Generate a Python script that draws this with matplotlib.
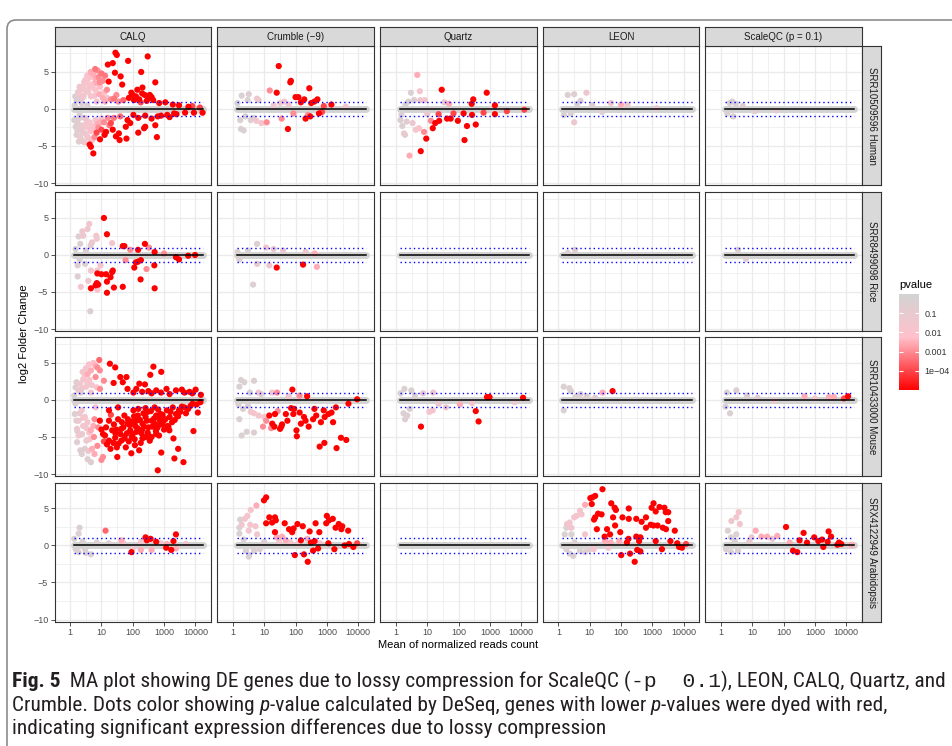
import matplotlib
matplotlib.use("Agg")
import matplotlib.pyplot as plt
import matplotlib.font_manager as fm
from matplotlib.colors import LinearSegmentedColormap, LogNorm
from matplotlib.cm import ScalarMappable
from matplotlib.patches import FancyBboxPatch
from matplotlib.ticker import NullFormatter
from matplotlib.transforms import IdentityTransform

plt.rcParams['font.family'] = ['Liberation Sans', 'DejaVu Sans']

tools = ["CALQ", "Crumble (\u22129)", "Quartz", "LEON", "ScaleQC (p = 0.1)"]
samples = ["SRR10509596 Human", "SRR8499098 Rice", "SRR10433000 Mouse", "SRX4122949 Arabidopsis"]
x_ticks = [1, 10, 100, 1000, 10000]
x_ticklabels = ["1", "10", "100", "1000", "10000"]
y_ticks = [-10, -5, 0, 5]
y_minor = [-7.5, -2.5, 2.5, 7.5]
p_ticks = [0.1, 0.01, 0.001, 1e-4]
p_ticklabels = ["0.1", "0.01", "0.001", "1e\u221204"]
lfc_cut = 1
mean_range = [1.35, 18000]

# (mean of normalized counts, log2 fold change, p value)
human_calq = [
    (28, 7.6, 1e-5), (31, 7.3, 1e-5), (16, 6.0, 1e-5), (23, 6.2, 1e-5), (71, 6.5, 1e-5), (300, 7.1, 1e-5),
    (27, 4.9, 1e-5), (41, 4.4, 1e-5), (186, 5.0, 1e-5), (525, 3.6, 1e-5), (204, 2.9, 1e-5), (46, 3.3, 1e-5),
    (17, 3.7, 1e-5), (4.2, -4.8, 1e-5), (4.6, -5.1, 1e-5), (5.5, -6.0, 1e-5), (9, -4.1, 1e-5), (12.6, -3.5, 1e-5),
    (14, -3.1, 1e-5), (23, -2.8, 1e-5), (29, -3.7, 1e-5), (38, -4.2, 1e-5), (63, -4.0, 1e-5), (36, -3.3, 1e-5),
    (60, -2.4, 1e-5), (83, -1.9, 1e-5), (150, -3.2, 1e-5), (230, -2.6, 1e-5), (250, -2.4, 1e-5), (525, -2.2, 1e-5),
    (590, -3.8, 1e-5), (68, -1.5, 1e-5), (105, -0.8, 1e-5),
    (100, 1.9, 1e-5), (126, 1.7, 1e-5), (200, 2.1, 1e-5), (320, 1.5, 1e-5), (450, 1.2, 1e-5), (1100, 0.9, 1e-5),
    (1900, 0.6, 1e-5), (6000, 0.3, 1e-5), (14000, 0.2, 1e-4), (250, -0.9, 1e-5), (630, -1.0, 1e-5),
    (1260, -0.8, 1e-5), (2100, -0.6, 1e-5), (4700, -0.5, 1e-5), (9000, -0.5, 1e-5), (17000, -0.5, 1e-5),
    (160, 1.3, 1e-5), (280, 1.1, 1e-5), (400, 1.6, 1e-5), (700, 0.8, 1e-5), (3000, 0.5, 1e-5), (8000, 0.4, 1e-4),
    (150, -1.2, 1e-5), (400, -1.3, 1e-5), (800, -0.9, 1e-5), (2500, -0.7, 1e-5), (1500, -1.1, 1e-5),
    (75, 1.5, 1e-5), (90, 2.2, 1e-5), (140, 2.6, 1e-5), (240, 1.9, 1e-5), (350, 1.9, 1e-5), (180, 0.9, 1e-4),
    (110, 1.2, 1e-5), (50, 1.2, 3e-4), (25, 1.4, 5e-4), (40, -1.0, 3e-4), (25, -1.2, 5e-4),
    (20, -1.9, 1e-4), (10, -2.8, 1e-4), (7, -3.2, 1e-4), (6.3, 5.4, 5e-4), (7.5, 5.2, 1e-3), (13, 4.5, 5e-4),
    (9, 3.6, 1e-3), (15, 2.6, 1e-3), (20, 1.3, 1e-3), (35, 1.0, 1e-3), (8, -2.5, 1e-3), (12, -1.8, 1e-3),
    (18, -2.2, 5e-4), (6, -3.8, 1e-3), (30, 1.9, 1e-3), (10, 4.8, 5e-4), (8, 4.3, 1e-3), (11, 3.8, 1e-3),
    (13, 1.0, 3e-3), (16, -1.2, 1e-3), (8.5, 2.0, 3e-3), (11, 1.5, 3e-3), (7.5, -2.0, 3e-3), (9, -1.8, 3e-3),
    (4.5, 5.0, 3e-3), (5.5, 4.7, 3e-3), (6.5, 4.0, 3e-3), (7, 3.5, 3e-3), (5, -4.2, 5e-3), (6, -2.8, 5e-3),
    (5, 4.4, 0.01), (3.6, 3.5, 0.01), (2.6, 3.0, 0.02), (1.9, 2.1, 0.03), (6.3, 2.6, 0.01), (4.6, 1.7, 0.02),
    (9, 3.0, 0.005), (12.6, 2.3, 0.005), (2.2, 2.6, 0.03), (3, 3.9, 0.02), (4, 4.2, 0.01), (7, 1.0, 0.02),
    (3.5, -3.7, 0.02), (2.8, -4.5, 0.03), (4.5, -3.0, 0.01), (5.2, -2.3, 0.01), (3.2, -2.0, 0.03),
    (10, -1.3, 0.01), (15, 1.5, 0.01), (2.5, 1.5, 0.05), (3.2, 2.5, 0.03), (4.2, 3.0, 0.02), (5.5, 3.4, 0.01),
    (2.4, -2.6, 0.05), (3.9, -2.5, 0.02), (6.5, -1.5, 0.02), (2.0, 3.0, 0.05), (2.8, 3.6, 0.03),
    (3.5, 4.5, 0.01), (5, 3.0, 0.01), (3.8, 2.3, 0.02), (2.7, 1.8, 0.03), (6, 1.8, 0.01), (3.0, -3.3, 0.05),
    (4, -4.0, 0.02), (4.2, -1.8, 0.02), (3.2, -1.3, 0.05),
    (1.6, 1.2, 0.3), (2.3, 0.8, 0.3), (1.35, -1.5, 0.3), (1.5, -2.4, 0.3), (1.6, -3.5, 0.2), (1.9, -4.4, 0.2),
    (2.5, -4.3, 0.1), (2.4, -3.1, 0.2), (3.3, -2.4, 0.1), (1.45, 1.7, 0.3), (1.8, 2.3, 0.2), (1.4, 0.5, 0.5),
    (2, -0.8, 0.4), (2.8, -1.2, 0.3), (3.5, 0.5, 0.3), (1.7, -1.8, 0.3), (2.1, 1.6, 0.2), (1.7, -2.9, 0.2),
    (2.1, -3.8, 0.1), (2.2, -2.2, 0.1), (1.9, -1.3, 0.2),
]
human_crumble = [
    (29, 5.8, 1e-5), (71, 3.8, 1e-5), (68, 3.6, 1e-5), (275, 2.8, 1e-5), (25, 2.2, 1e-5), (100, 1.6, 1e-5),
    (123, 1.6, 1e-5), (148, 0.9, 1e-5), (190, 1.3, 1e-5), (500, 1.3, 1e-5), (400, 1.0, 1e-5), (316, 0.8, 1e-5),
    (57, -2.7, 1e-5), (209, -1.3, 1e-5), (295, -1.0, 1e-5), (560, -0.6, 1e-5), (700, -0.4, 1e-4),
    (1400, 0.6, 1e-5), (800, 0.4, 1e-4),
    (15, 2.5, 1e-3), (12, -1.8, 1e-3), (36, -1.3, 1e-3), (85, -0.6, 1e-3), (250, -0.8, 1e-3),
    (8.1, -1.9, 0.02), (5.6, -1.6, 0.02), (44, 1.0, 0.02), (32, 0.8, 0.02), (5.9, 1.4, 0.03), (4000, 0.3, 0.02),
    (20, 0.5, 0.03), (60, 0.6, 0.03),
    (1.9, 1.8, 0.4), (3.2, 2.0, 0.3), (1.8, -2.7, 0.4), (1.7, -1.5, 0.4), (3.7, -1.5, 0.3), (2.95, 1.2, 0.4),
    (6.6, 1.2, 0.3), (2.5, -1.0, 0.4), (1.4, 0.8, 0.5), (4.5, -1.2, 0.3), (2.2, -2.9, 0.4),
]
human_quartz = [
    (4.8, 4.6, 3e-3), (5.8, 2.4, 0.02), (3.0, 2.2, 0.4), (29, 2.6, 1e-5), (794, 2.2, 1e-5), (295, 1.3, 1e-5),
    (263, 0.7, 1e-5), (1450, 0.5, 1e-5), (6.2, -5.7, 1e-5), (9.3, -4.0, 1e-5), (7.9, -3.1, 1e-3),
    (2.7, -6.3, 3e-3), (15, -2.6, 1e-5), (18, -1.9, 1e-5), (24, -1.6, 1e-5), (13, -1.6, 1e-3), (43, -1.3, 1e-5),
    (56, -1.3, 1e-5), (95, -1.6, 1e-5), (145, -0.6, 1e-5), (155, -4.2, 1e-5), (186, -2.3, 1e-5),
    (355, -2.1, 1e-5), (270, -0.8, 1e-5), (1450, -0.7, 1e-5), (630, -0.5, 1e-4), (3500, -0.3, 1e-4),
    (12600, -0.1, 1e-4), (23, -0.7, 1e-4), (69, -0.6, 1e-4),
    (1.4, -1.5, 0.3), (1.6, -2.3, 0.3), (1.8, -3.3, 0.1), (1.95, -3.5, 0.3), (4.3, -2.8, 0.02), (5.4, -2.6, 0.01),
    (3.4, -1.9, 0.05), (2.2, -1.7, 0.2), (6, 1.2, 0.03), (8.3, 1.2, 0.02), (35, 0.9, 0.02), (50, 0.7, 3e-3),
    (3.8, 1.2, 0.3), (2.5, 1.0, 0.4), (1.5, -0.8, 0.4), (2, 0.6, 0.5), (10, -0.7, 0.05),
]
human_leon = [
    (2.0, 1.9, 0.4), (7.9, 2.2, 0.05), (3.2, 2.0, 0.3), (5.1, 1.1, 0.3), (3.2, -1.8, 0.05), (1.5, -0.8, 0.5),
    (2.5, -0.6, 0.4), (100, 0.6, 3e-3), (48, 0.8, 0.03), (160, 0.6, 0.03), (1380, 0.1, 0.05), (4, 0.7, 0.4),
    (12, 0.5, 0.3), (25, -0.4, 0.3),
]
human_scaleqc = [
    (2.3, 1.0, 0.4), (1.9, 0.8, 0.4), (3.0, 0.7, 0.4), (5, 0.4, 0.3), (1.6, -0.6, 0.5), (12, -0.3, 0.2),
    (60, -0.2, 0.1), (2.5, -1.0, 0.4),
]

rice_calq = [
    (12, 5.0, 1e-5), (15, 2.8, 1e-5), (10, -2.6, 1e-5), (14, -2.6, 1e-5), (7.4, -2.5, 1e-5), (4.6, -4.5, 1e-5),
    (6.5, -4.1, 1e-5), (7.1, -3.8, 1e-5), (7.9, -4.0, 1e-5), (15, -3.6, 1e-5), (15, -5.1, 1e-5),
    (25, -4.4, 1e-5), (48, -4.3, 1e-5), (22, -2.3, 1e-5), (23, -2.1, 1e-5), (19.5, -3.0, 1e-5),
    (112, -1.7, 1e-5), (126, -1.0, 1e-5), (148, -0.9, 1e-5), (182, -0.7, 1e-5), (178, -3.3, 1e-5),
    (245, 1.5, 1e-5), (490, -1.4, 1e-5), (500, -4.5, 1e-5), (48, 1.2, 1e-5), (54, 1.2, 1e-5), (148, 0.7, 1e-5),
    (9800, 0.0, 1e-5), (500, 0.4, 1e-5), (2400, -0.3, 1e-5), (3000, -0.6, 1e-5), (5900, -0.1, 1e-5),
    (59, -0.7, 1e-3), (275, -1.9, 1e-3), (83, 0.7, 1e-3), (330, 1.0, 1e-3), (1000, 0.2, 1e-3),
    (7.4, -2.1, 0.02), (4.6, -2.1, 0.02), (3.8, -3.5, 0.03), (7.4, -4.7, 0.01), (2.2, -4.3, 0.02),
    (6.8, 2.6, 0.03), (7.1, 2.2, 0.03), (5, 1.7, 0.05), (2.6, 2.6, 0.05), (2.45, 3.2, 0.05), (4.1, 4.2, 0.03),
    (3.6, 3.5, 0.05), (22, 1.6, 0.02), (9.3, -1.4, 0.02),
    (1.74, -2.9, 0.3), (1.74, -1.4, 0.3), (4.4, -7.6, 0.3), (1.86, 2.5, 0.3), (2.1, 1.5, 0.3), (3.2, 0.6, 0.3),
    (2.0, -0.6, 0.4), (1.5, 0.8, 0.4), (4.5, 1.3, 0.2), (3, -1.2, 0.3),
]
rice_crumble = [
    (5.9, 1.5, 0.3), (4.4, -4.0, 0.4), (1.6, -0.6, 0.4), (1.4, 0.4, 0.5), (25, -1.7, 1e-5), (174, -1.3, 1e-5),
    (480, -1.6, 3e-3), (410, 0.2, 3e-3), (11.5, 1.0, 0.03), (14.5, -1.4, 0.03), (20, 0.8, 0.05),
    (5.9, -1.2, 0.1), (40, 0.6, 0.05), (210, 0.4, 0.05), (3, 0.6, 0.4),
]
rice_quartz = []
rice_leon = [(3.4, 0.7, 0.2), (2.0, 0.3, 0.4)]
rice_scaleqc = [(3.5, 0.7, 0.3), (6.3, -0.5, 0.3)]

mouse_calq = [
    (8.5, 5.4, 3e-4), (18.6, 4.9, 1e-5), (27.5, 4.4, 1e-5), (40, 3.1, 1e-5), (63, 3.1, 1e-5), (24.5, 2.3, 1e-5),
    (48, 2.4, 1e-5), (162, 2.2, 1e-5), (245, 2.1, 1e-5), (457, 4.5, 1e-5), (363, 3.4, 1e-5), (813, 3.8, 1e-5),
    (316, 1.2, 1e-5), (562, 1.3, 1e-5), (2400, 1.3, 1e-5), (3700, 1.4, 1e-5), (6500, 1.1, 1e-5),
    (10200, 1.4, 1e-5), (68, 1.5, 1e-5), (105, 1.0, 1e-5), (1500, 0.8, 1e-5), (800, 1.0, 1e-5),
    (400, 0.9, 1e-5), (200, 1.1, 1e-5), (4500, 1.0, 1e-5), (8000, 0.9, 1e-5), (15000, 0.7, 1e-5),
    (130, 1.5, 1e-5), (1200, 1.5, 1e-5),
    (11.2, -4.6, 1e-5), (17.4, -5.5, 1e-5), (19.5, -6.6, 1e-5), (31, -6.4, 1e-5), (32, -7.7, 1e-5),
    (11.2, -7.7, 1e-3), (10, -8.1, 1e-3), (630, -9.5, 1e-5), (813, -7.1, 1e-5), (2140, -7.9, 1e-5),
    (2820, -6.6, 1e-5), (4170, -8.4, 1e-5), (8700, -4.2, 1e-5), (12000, -1.7, 1e-5), (690, -4.8, 1e-5),
    (560, -4.6, 1e-5), (1380, -3.6, 1e-5), (1480, -4.1, 1e-5), (204, -5.2, 1e-5), (117, -6.1, 1e-5),
    (54, -4.9, 1e-5), (27.5, -5.1, 1e-5), (43, -3.9, 1e-5), (68, -3.2, 1e-5), (132, -2.8, 1e-5),
    (257, -2.3, 1e-5), (400, -2.8, 1e-5), (776, -1.9, 1e-5), (1230, -1.4, 1e-5), (1900, -1.0, 1e-5),
    (3000, -1.4, 1e-5), (5900, -1.2, 1e-5), (105, -1.4, 1e-5), (54, -2.1, 1e-5), (17.4, -2.8, 1e-5),
    (14, -3.7, 1e-5), (8.9, -2.8, 1e-5), (22, -4.1, 1e-5), (83, -4.1, 1e-5), (162, -4.1, 1e-5),
    (316, -3.7, 1e-5), (500, -3.2, 1e-5), (93, -5.0, 1e-5), (257, -5.0, 1e-5), (34, -2.6, 1e-5),
    (145, -2.1, 1e-5), (562, -2.1, 1e-5), (43, -5.5, 1e-5), (60, -6.4, 1e-5), (400, -5.0, 1e-5),
    (204, -3.2, 1e-5), (132, -4.3, 1e-5), (977, -2.8, 1e-5), (1510, -2.3, 1e-5), (2400, -1.9, 1e-5),
    (3700, -0.9, 1e-5), (8100, -0.5, 1e-5), (14500, -0.3, 1e-5), (500, -1.0, 1e-5), (257, -1.1, 1e-5),
    (34, -1.0, 1e-5), (17.4, -1.4, 1e-5), (70, -2.6, 1e-5), (120, -3.5, 1e-5), (190, -4.5, 1e-5),
    (300, -4.4, 1e-5), (350, -5.5, 1e-5), (180, -5.8, 1e-5), (75, -5.6, 1e-5), (40, -4.6, 1e-5),
    (25, -3.3, 1e-5), (220, -1.8, 1e-5), (700, -2.5, 1e-5), (1000, -4.0, 1e-5), (380, -1.5, 1e-5),
    (1800, -3.0, 1e-5), (2800, -2.2, 1e-5), (5000, -1.8, 1e-5), (160, -6.8, 1e-5), (90, -7.2, 1e-5),
    (2000, -5.2, 1e-5), (45, -3.0, 1e-5), (30, -4.0, 1e-5), (110, -2.2, 1e-5), (600, -3.8, 1e-5),
    (880, -3.3, 1e-5), (12, -5.6, 1e-4), (20, -2.0, 1e-4),
    (10, -4.0, 1e-5), (13, -4.8, 1e-5), (15, -6.0, 1e-5), (24, -5.8, 1e-5), (28, -4.5, 1e-5), (35, -5.9, 1e-5),
    (50, -3.7, 1e-5), (55, -5.2, 1e-5), (65, -4.5, 1e-5), (80, -3.4, 1e-5), (95, -2.9, 1e-5), (100, -4.6, 1e-5),
    (115, -5.3, 1e-5), (140, -3.8, 1e-5), (170, -2.7, 1e-5), (200, -4.0, 1e-5), (230, -3.6, 1e-5),
    (280, -2.8, 1e-5), (320, -4.8, 1e-5), (420, -3.6, 1e-5), (480, -2.5, 1e-5), (550, -4.2, 1e-5),
    (650, -3.5, 1e-5), (750, -2.9, 1e-5), (900, -2.0, 1e-5), (1100, -2.6, 1e-5), (1300, -3.5, 1e-5),
    (1600, -1.6, 1e-5), (2200, -2.7, 1e-5), (3300, -1.6, 1e-5), (4500, -1.0, 1e-5), (7000, -0.8, 1e-5),
    (11000, -0.6, 1e-5), (150, -1.2, 1e-5), (300, -1.6, 1e-5), (650, -1.3, 1e-5),
    (6.5, 3.1, 1e-3), (8.9, 4.0, 1e-3), (7.4, 4.4, 1e-3), (4.6, 4.0, 3e-3), (3.6, 3.5, 3e-3),
    (5.75, -5.0, 1e-3), (7.4, -6.2, 1e-3), (4.6, -4.1, 3e-3), (7.9, -3.7, 1e-3), (6, -2.6, 1e-3),
    (9, 1.5, 1e-3), (12, 2.6, 1e-3), (5.5, -3.5, 3e-3), (5.5, 5.0, 5e-3), (6.5, 4.6, 3e-3),
    (5, -6.6, 3e-3), (6, -7.3, 3e-3),
    (2.1, 2.2, 0.02), (2.6, 2.8, 0.02), (2.95, 3.3, 0.02), (4.1, 2.7, 0.01), (1.86, 1.3, 0.05), (2.35, -1.4, 0.03),
    (2.95, -2.3, 0.02), (3.6, -3.0, 0.02), (1.86, -2.8, 0.05), (1.66, -3.9, 0.05), (1.86, -4.8, 0.03),
    (4.1, -4.4, 0.01), (6.5, -1.0, 0.01), (4.6, 1.0, 0.02), (7.1, 1.7, 0.01), (3.3, 1.8, 0.03), (5, 2.0, 0.02),
    (2.6, -3.5, 0.03), (2.5, 3.8, 0.03), (3.2, 4.3, 0.02), (4, 4.8, 0.01), (3.5, 2.4, 0.03), (2.4, 1.6, 0.05),
    (2.6, -2.4, 0.05), (3.3, -3.8, 0.03), (4.2, -5.3, 0.02), (3.8, -6.9, 0.05),
    (1.48, 1.7, 0.3), (1.35, 0.6, 0.4), (1.48, -0.5, 0.4), (1.41, -1.9, 0.3), (1.58, -2.8, 0.3),
    (1.66, -5.7, 0.2), (2.95, -6.6, 0.2), (2.1, -6.8, 0.2), (4.6, -8.4, 0.2), (3.6, -8.0, 0.2),
    (2.35, -7.3, 0.3), (1.7, -4.2, 0.3), (3.3, -5.5, 0.1), (2.2, 1.0, 0.3), (1.6, 2.4, 0.3), (2.0, -1.8, 0.1),
    (2.4, -4.6, 0.1),
]
mouse_crumble = [
    (79, 1.4, 1e-5), (234, 0.5, 1e-5), (72, -1.1, 1e-5), (90, -1.2, 1e-5), (110, -4.9, 1e-5), (35, -3.6, 1e-5),
    (32, -3.9, 1e-5), (37, -3.3, 1e-5), (18, -3.2, 1e-5), (21, -3.6, 1e-5), (14.5, -2.1, 1e-5), (22, -1.9, 1e-5),
    (49, -1.9, 1e-5), (85, -1.9, 1e-5), (135, -1.7, 1e-5), (186, -2.3, 1e-5), (209, -2.8, 1e-5),
    (263, -3.6, 1e-5), (363, -2.6, 1e-5), (457, -2.1, 1e-5), (646, -3.0, 1e-5), (851, -2.3, 1e-5),
    (1120, -1.9, 1e-5), (1410, -1.7, 1e-5), (1580, -3.0, 1e-5), (589, -6.3, 1e-5), (832, -5.8, 1e-5),
    (2040, -6.5, 1e-5), (2820, -5.1, 1e-5), (4170, -5.4, 1e-5), (107, -4.1, 1e-5), (148, -3.2, 1e-5),
    (55, -2.8, 1e-5), (794, -1.4, 1e-5), (1950, -1.0, 1e-5), (4900, -0.5, 1e-5), (9300, 0.1, 1e-5),
    (400, -1.2, 1e-5),
    (25.7, 1.0, 1e-3), (16.6, -3.8, 1e-3), (11.5, -2.8, 1e-3), (9.1, -3.6, 1e-3), (27, -1.5, 1e-3),
    (135, 0.6, 1e-3),
    (6.6, -2.1, 0.02), (10, -2.3, 0.02), (4.7, -1.8, 0.02), (3.7, -1.6, 0.03), (17.8, 1.0, 0.02),
    (6.6, 1.0, 0.03), (130, 0.3, 0.03), (60, 0.5, 0.03),
    (1.8, 2.7, 0.4), (2.3, 2.4, 0.4), (4.7, 2.6, 0.3), (1.6, 1.8, 0.4), (1.9, -4.8, 0.4), (2.75, -4.3, 0.3),
    (4.7, -4.4, 0.3), (1.6, -2.6, 0.4), (2.1, -1.2, 0.4), (3, -0.8, 0.4), (1.5, -0.6, 0.5), (3.5, 1.0, 0.4),
    (8, 0.8, 0.3),
]
mouse_quartz = [
    (6.3, -3.6, 1e-5), (355, -1.5, 1e-5), (437, -2.9, 1e-5), (813, 0.4, 1e-5), (977, 0.4, 1e-5),
    (11500, 0.3, 1e-5), (11.7, -1.6, 0.02), (15, -1.4, 0.02), (15.5, 1.0, 0.03), (7.4, 0.9, 0.05),
    (40, -1.0, 0.03), (110, -0.6, 3e-3), (270, -0.4, 0.02), (23, -0.5, 0.05), (1.86, 1.5, 0.4), (3.1, 1.3, 0.4),
    (1.4, 0.9, 0.4), (1.74, -1.8, 0.4), (1.95, -2.6, 0.3), (2.3, -2.1, 0.3), (2.75, -1.2, 0.3),
    (6200, -0.3, 0.1), (4, 0.6, 0.3),
]
mouse_leon = [
    (54, 1.2, 1e-5), (26, 1.0, 3e-3), (1.48, 1.8, 0.4), (2.24, 1.6, 0.4), (2.5, 1.2, 0.4), (1.48, -1.4, 0.4),
    (5.1, 0.8, 0.3), (8, 0.5, 0.3), (3.5, 0.4, 0.4), (15, 0.3, 0.2),
]
mouse_scaleqc = [
    (3.1, 1.3, 0.3), (1.95, -1.8, 0.4), (1.4, -0.9, 0.4), (1.55, 1.0, 0.4), (6.8, 0.6, 0.3),
    (11500, 0.5, 1e-5), (2800, 0.4, 3e-3), (4070, 0.4, 3e-3), (470, 0.5, 3e-3), (8500, 0.2, 1e-4),
    (50, -0.1, 0.03), (1000, 0.2, 0.02), (15, 0.3, 0.2),
]

arab_calq = [
    (2, 2.4, 0.4), (1.86, 1.6, 0.4), (1.35, 0.9, 0.4), (1.86, -0.9, 0.4), (3.2, -1.0, 0.4), (4.6, -1.2, 0.4),
    (7.1, 0.4, 0.4), (17, 0.3, 0.4), (2.5, 0.5, 0.4), (1.5, -0.5, 0.4), (3, -0.5, 0.4),
    (13.5, 2.0, 3e-4), (91, -0.9, 1e-5), (257, 1.1, 1e-5), (282, 0.7, 1e-5), (372, 0.9, 1e-5),
    (2400, 1.5, 1e-5), (2000, 0.6, 1e-5), (1170, -0.3, 1e-5), (1700, -0.6, 1e-5), (562, 0.5, 1e-5),
    (43, 0.7, 3e-3), (182, -0.6, 3e-3), (400, -0.6, 3e-3), (1230, 0.2, 3e-3), (2400, -0.4, 3e-3),
    (182, 0.5, 0.03), (50, 0.3, 0.05), (100, -0.4, 0.05), (800, 0.3, 0.05), (5000, 0.2, 0.05),
]
arab_crumble = [
    (9.8, 6.1, 1e-5), (11.5, 6.5, 1e-5), (14.5, 3.8, 1e-5), (22, 3.8, 1e-5), (11.5, 3.0, 1e-5), (17.8, 3.1, 1e-5),
    (23.4, 3.4, 1e-5), (22, 1.8, 1e-5), (45, 3.0, 1e-5), (62, 2.2, 1e-5), (78, 1.8, 1e-5), (87, 2.3, 1e-5),
    (115, 2.9, 1e-5), (170, 2.6, 1e-5), (282, 1.9, 1e-5), (437, 3.0, 1e-5), (575, 1.8, 1e-5), (955, 3.0, 1e-5),
    (1000, 4.0, 1e-5), (1175, 3.4, 1e-5), (1550, 3.6, 1e-5), (1900, 2.4, 1e-5), (2400, 2.9, 1e-5),
    (3100, 2.6, 1e-5), (4800, 2.0, 1e-5), (2900, 2.2, 1e-5), (95, -1.3, 1e-5), (186, -1.2, 1e-5),
    (245, -2.2, 1e-5), (363, -0.7, 1e-5), (309, 0.4, 1e-5), (407, 0.6, 1e-5), (525, -0.4, 1e-5),
    (1120, 0.3, 1e-5), (1740, -0.5, 1e-5), (3700, 0.0, 1e-5), (5100, 0.2, 1e-5), (9300, 0.3, 1e-4),
    (148, 0.7, 1e-5), (7000, -0.2, 1e-5),
    (5.6, 5.4, 3e-3), (37, 1.2, 3e-3), (25, 1.1, 3e-3), (49, 0.7, 3e-3), (240, 0.9, 3e-3),
    (3.7, 4.8, 0.02), (2.9, 4.0, 0.02), (2.4, 3.6, 0.02), (3.55, 2.8, 0.02), (1.9, 2.8, 0.03), (3.2, 2.0, 0.03),
    (5.25, 2.6, 0.02), (5.9, 1.5, 0.03), (69, 0.4, 0.02), (120, 0.2, 0.03), (30, 0.5, 0.03), (600, 0.3, 0.03),
    (1.7, 3.5, 0.4), (1.6, 2.4, 0.4), (1.6, 1.6, 0.4), (3.3, -1.3, 0.4), (3.2, -1.5, 0.4), (2.6, -0.7, 0.4),
    (4.7, -0.7, 0.4), (7.2, -0.5, 0.3), (2.2, 0.8, 0.4), (10, 0.5, 0.3),
]
arab_quartz = []
arab_leon = [
    (25.7, 7.6, 1e-5), (15, 6.7, 1e-5), (12.3, 6.5, 1e-5), (10.5, 6.4, 1e-5), (11.7, 5.6, 1e-5), (18.6, 4.3, 1e-5),
    (24, 4.2, 1e-5), (15, 3.8, 1e-5), (13.8, 3.5, 1e-5), (49, 5.7, 1e-5), (63, 5.1, 1e-5), (69, 4.8, 1e-5),
    (56, 3.8, 1e-5), (112, 3.8, 1e-5), (178, 5.0, 1e-5), (178, 3.6, 1e-5), (309, 3.6, 1e-5), (457, 3.2, 1e-5),
    (631, 3.8, 1e-5), (65, 2.7, 1e-5), (36, 2.2, 1e-5), (45, 1.5, 1e-5), (95, 1.8, 1e-5), (17, 2.2, 1e-5),
    (30, 1.2, 1e-5), (309, 1.2, 1e-5), (417, 1.1, 1e-5), (380, 0.6, 1e-5), (174, 0.9, 1e-5), (155, 0.4, 1e-5),
    (331, -0.6, 1e-5), (417, -0.8, 1e-5), (195, -1.1, 1e-5), (102, -1.3, 1e-5), (275, -2.2, 1e-5),
    (1290, 0.6, 1e-5), (2040, -0.5, 1e-5), (3800, 0.6, 1e-5), (6300, 0.3, 1e-5), (7200, -0.2, 1e-5),
    (8900, -0.3, 1e-5), (12000, 0.2, 1e-4), (955, 5.1, 1e-5), (1100, 5.7, 1e-5), (1290, 4.6, 1e-5),
    (1700, 5.2, 1e-5), (2450, 5.1, 1e-5), (3240, 4.5, 1e-5), (2700, 4.5, 1e-5), (3240, 3.3, 1e-5),
    (1100, 2.7, 1e-5), (1480, 2.7, 1e-5), (2190, 2.4, 1e-5), (2750, 2.2, 1e-5), (5250, 2.0, 1e-5),
    (631, 2.4, 1e-5), (890, 2.8, 1e-5),
    (7.1, 5.5, 3e-3), (31, 0.6, 3e-3), (47, 0.4, 3e-3), (89, 0.6, 3e-3),
    (5.5, 4.2, 0.02), (3.8, 4.0, 0.02), (4.9, 4.7, 0.02), (3.2, 3.8, 0.02), (2.3, 3.1, 0.03), (2.6, 2.4, 0.03),
    (1.9, 2.9, 0.03), (7.1, 1.5, 0.02), (13.5, -0.5, 0.02), (40, -0.3, 0.03),
    (1.8, 2.4, 0.4), (1.6, 1.5, 0.4), (2.6, 1.5, 0.4), (3.3, 0.4, 0.4), (1.8, -0.5, 0.4), (2.3, -1.1, 0.4),
    (3, -1.4, 0.4), (4.9, -0.7, 0.4), (7.1, -0.9, 0.3), (10, -0.5, 0.3),
]
arab_scaleqc = [
    (1.66, 2.0, 0.4), (2.1, 1.1, 0.4), (2.75, 0.6, 0.4), (3.5, -0.7, 0.4), (2.1, -0.9, 0.4), (1.45, -0.5, 0.4),
    (3.1, 1.5, 0.4),
    (2.15, 3.3, 0.05), (3.7, 4.5, 0.02), (3.1, 3.8, 0.03), (4, 2.9, 0.03), (9.5, 1.1, 0.05), (44, 0.9, 0.05),
    (12600, 0.0, 0.05), (8, 0.5, 0.1),
    (12.9, 2.0, 3e-3), (19.5, 1.2, 3e-3), (30, 1.2, 3e-3), (63, 1.3, 3e-3), (158, 0.4, 3e-3), (15000, 0.1, 3e-3),
    (120, 2.5, 1e-5), (437, 1.7, 1e-5), (2750, 1.9, 1e-5), (3300, 1.2, 1e-5), (955, 1.1, 1e-5),
    (1290, 0.6, 1e-5), (1700, 0.8, 1e-5), (2570, 0.5, 1e-5), (5900, 0.4, 1e-5), (200, -0.7, 1e-5),
    (275, -0.9, 1e-5), (324, 0.7, 1e-5), (562, 0.4, 1e-5), (1860, -0.2, 1e-5), (5250, 0.1, 1e-5),
    (7000, 0.2, 1e-5),
]

panels = [
    [human_calq, human_crumble, human_quartz, human_leon, human_scaleqc],
    [rice_calq, rice_crumble, rice_quartz, rice_leon, rice_scaleqc],
    [mouse_calq, mouse_crumble, mouse_quartz, mouse_leon, mouse_scaleqc],
    [arab_calq, arab_crumble, arab_quartz, arab_leon, arab_scaleqc],
]

W, H = 952, 746
fig = plt.figure(figsize=(W / 100, H / 100), dpi=100)

def px_axes(x, y, w, h):
    return fig.add_axes([x / W, 1 - (y + h) / H, w / W, h / H])

cmap = LinearSegmentedColormap.from_list("pv", [(0, "#FF0000"), (0.55, "#FFC0CB"), (1, "#D3D3D3")])
norm = LogNorm(vmin=1e-5, vmax=1)

col_left = [54.5, 217.3, 380.3, 542.7, 705.3]
row_top = [46, 192, 337, 482.5]
pw, ph = 156.5, 139
edge = "#333333"

for r in range(4):
    for c in range(5):
        ax = px_axes(col_left[c], row_top[r], pw, ph)
        ax.set_xscale("log")
        ax.set_xlim(10 ** -0.087, 10 ** 4.47)
        ax.set_ylim(-10.27, 8.51)
        ax.set_xticks(x_ticks)
        ax.set_xticklabels(x_ticklabels)
        ax.set_xticks([10 ** (k + 0.5) for k in range(-1, 5)], minor=True)
        ax.xaxis.set_minor_formatter(NullFormatter())
        ax.set_yticks(y_ticks)
        ax.set_yticks(y_minor, minor=True)
        ax.grid(which="major", color="#EBEBEB", lw=1.0)
        ax.grid(which="minor", color="#EBEBEB", lw=0.5)
        ax.set_axisbelow(True)
        ax.tick_params(which="minor", length=0)
        ax.tick_params(which="major", direction="out", length=3, width=0.6, color=edge,
                       labelsize=6.5, labelcolor="#4D4D4D", pad=1.5)
        if c > 0:
            ax.tick_params(left=False, labelleft=False)
        if r < 3:
            ax.tick_params(bottom=False, labelbottom=False)
        for s in ax.spines.values():
            s.set_color(edge)
            s.set_linewidth(0.8)

        # band of non-changed genes along zero
        ax.plot(mean_range, [0, 0], color="#D3D3D3", lw=5, solid_capstyle="round", zorder=2)

        pts = sorted(panels[r][c], key=lambda t: -t[2])
        if pts:
            m, lfc, pv = zip(*pts)
            ax.scatter(m, lfc, c=pv, cmap=cmap, norm=norm, s=20, linewidths=0, zorder=3)

        ax.plot(mean_range, [0, 0], color="black", lw=1.1, zorder=4)
        for yv in (lfc_cut, -lfc_cut):
            ax.plot(mean_range, [yv, yv], color="blue", lw=1.0, ls=(0, (1, 2.2)), zorder=4)

# strips
for c in range(5):
    sa = px_axes(col_left[c], 27, pw, 19)
    sa.set_facecolor("#D9D9D9")
    sa.set_xticks([]); sa.set_yticks([])
    for s in sa.spines.values():
        s.set_color(edge); s.set_linewidth(0.8)
    sa.text(0.5, 0.5, tools[c], ha="center", va="center", fontsize=7, color="#1A1A1A", transform=sa.transAxes)
for r in range(4):
    sa = px_axes(862.3, row_top[r], 19, ph)
    sa.set_facecolor("#D9D9D9")
    sa.set_xticks([]); sa.set_yticks([])
    for s in sa.spines.values():
        s.set_color(edge); s.set_linewidth(0.8)
    sa.text(0.5, 0.5, samples[r], ha="center", va="center", rotation=-90, fontsize=7,
            color="#1A1A1A", transform=sa.transAxes)

# axis titles
fig.text(24 / W, 1 - 334 / H, "log2 Folder Change", rotation=90, ha="center", va="center", fontsize=8)
fig.text(458 / W, 1 - 645 / H, "Mean of normalized reads count", ha="center", va="center", fontsize=8)

# legend
fig.text(899 / W, 1 - 285 / H, "pvalue", ha="left", va="center", fontsize=8)
cax = px_axes(899, 294, 20, 96)
cb = fig.colorbar(ScalarMappable(norm=norm, cmap=cmap), cax=cax)
cb.outline.set_visible(False)
cb.set_ticks(p_ticks)
cb.set_ticklabels(p_ticklabels)
cb.minorticks_off()
cax.yaxis.set_ticks_position("both")
cax.tick_params(direction="in", length=3, width=0.8, color="white", labelsize=6.5,
                labelcolor="#333333", labelleft=False, labelright=True, pad=4)

# caption
names = {f.name for f in fm.fontManager.ttflist}
cap_font = next((f for f in ["Roboto Condensed", "Liberation Sans Narrow", "Arial Narrow", "Roboto", "Liberation Sans"]
                 if f in names), "DejaVu Sans")
mono_font = "Liberation Mono" if "Liberation Mono" in names else "DejaVu Sans Mono"
renderer = fig.canvas.get_renderer()

def draw_line(segments, x0, y0, size):
    x = x0
    out = []
    for txt, style in segments:
        t = fig.text(x / W, 1 - y0 / H, txt, fontsize=size, va="baseline", ha="left", **style)
        x += t.get_window_extent(renderer).width
        out.append(t)
    return out, x

ink = "#231F20"
plain = dict(family=[cap_font, "DejaVu Sans"], color=ink)
bold = dict(family=[cap_font, "DejaVu Sans"], weight="bold", color=ink)
ital = dict(family=[cap_font, "DejaVu Sans"], style="italic", color=ink)
mono = dict(family=[mono_font], color=ink)
line1 = [("Fig. 5", bold), ("  MA plot showing DE genes due to lossy compression for ScaleQC (", plain),
         ("-p  0.1", mono), ("), LEON, CALQ, Quartz, and", plain)]
line2 = [("Crumble. Dots color showing ", plain), ("p", ital),
         ("-value calculated by DeSeq, genes with lower ", plain), ("p", ital),
         ("-values were dyed with red,", plain)]
line3 = [("indicating significant expression differences due to lossy compression", plain)]

trial, xend = draw_line(line1, 12, 686, 12)
size = min(16.5, 12 * (944 - 12) / (xend - 12))
for t in trial:
    t.remove()
draw_line(line1, 12, 687, size)
draw_line(line2, 12, 711, size)
draw_line(line3, 12, 734, size)

# figure frame
frame = FancyBboxPatch((7, -60), 1000, 796 - 10, boxstyle="round,pad=0,rounding_size=9",
                       transform=IdentityTransform(), facecolor="none", edgecolor="#8C8C8C", lw=1.2)
fig.add_artist(frame)

fig.savefig("out.png", dpi=100)
